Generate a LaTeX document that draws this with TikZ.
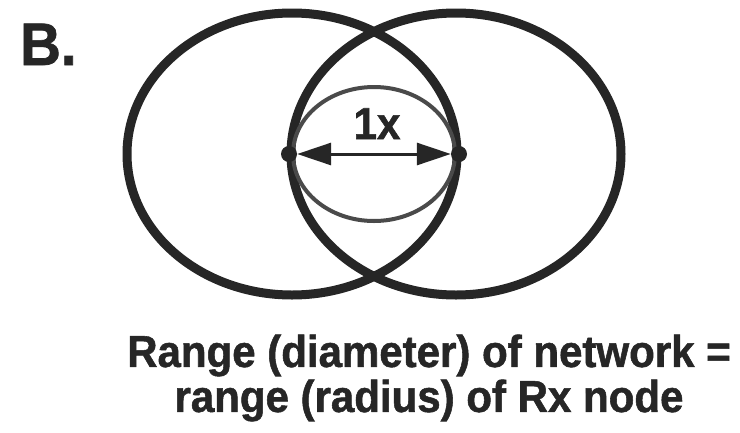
\documentclass[tikz,border=0pt]{standalone}
\usepackage{fontspec}
\usepackage{tikz}
\usetikzlibrary{arrows.meta,positioning,calc,backgrounds}
\newfontfamily\capfont[FakeStretch=0.94,FakeBold=1.2]{Liberation Sans}
\definecolor{ink}{HTML}{262626}
\definecolor{inner}{HTML}{4A4A4A}

\begin{document}
\begin{tikzpicture}[x=1pt,y=-1pt,
    rxnode/.style={circle,fill=ink,inner sep=0pt,minimum size=16pt},
    ring/.style={draw=ink,line width=9pt},
    halfring/.style={draw=inner,line width=4pt},
    span/.style={draw=ink,line width=3pt,{Triangle[length=34pt,width=22pt]}-{Triangle[length=34pt,width=22pt]}},
    bigtext/.style={text=ink,font=\capfont\bfseries\fontsize{44.7}{45}\selectfont,inner sep=0pt}]
  \useasboundingbox (0,0) rectangle (740,432);
  % panel letter
  \node[bigtext,font=\capfont\bfseries\fontsize{60}{60}\selectfont,anchor=base west] (panel) at (20,65) {B.};
  % the two Rx nodes
  \node[rxnode] (nodeA) at (289,154) {};
  \node[rxnode] (nodeB) at (459,154) {};
  \coordinate (mid) at ($(nodeA)!0.5!(nodeB)$);
  % ranges
  \begin{scope}[on background layer]
    \draw[ring] ($(nodeA)+(3,0)$) ellipse[x radius=165pt,y radius=141pt];
    \draw[ring] ($(nodeB)+(-3,0)$) ellipse[x radius=165pt,y radius=141pt];
    \draw[halfring] (mid) ellipse[x radius=81pt,y radius=67pt];
  \end{scope}
  % distance between them
  \draw[span] (nodeA) -- (nodeB);
  \node[bigtext,anchor=base] (dist) at ($(mid)+(3,-15)$) {1x};
  % caption
  \node[bigtext,align=center] (caption) at (429,378)
    {Range (diameter) of network =\\range (radius) of Rx node};
\end{tikzpicture}
\end{document}
